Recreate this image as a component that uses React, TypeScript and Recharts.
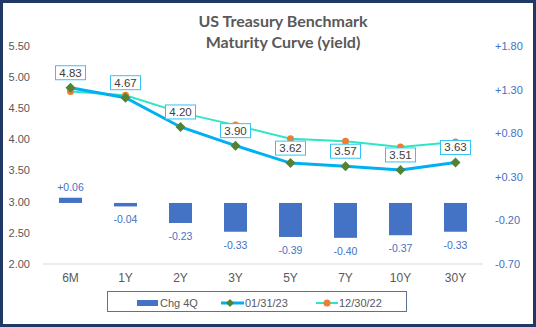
import React from 'react';
import { ComposedChart, Bar, Line, XAxis, YAxis, LabelList } from 'recharts';

const tenors = ['6M', '1Y', '2Y', '3Y', '5Y', '7Y', '10Y', '30Y'];
const chg4Q = [0.06, -0.04, -0.23, -0.33, -0.39, -0.4, -0.37, -0.33];
const jan31 = [4.83, 4.67, 4.2, 3.9, 3.62, 3.57, 3.51, 3.63];
const dec30 = [4.77, 4.71, 4.43, 4.23, 4.01, 3.97, 3.88, 3.96];
const leftTicks = [2, 2.5, 3, 3.5, 4, 4.5, 5, 5.5];
const rightTicks = [-0.7, -0.2, 0.3, 0.8, 1.3, 1.8];

const data = tenors.map((t, i) => ({ tenor: t, chg: chg4Q[i], jan: jan31[i], dec: dec30[i] }));

const FONT = '"Liberation Sans", Arial, sans-serif';
const BAR_BLUE = '#4472C4';
const LINE_BLUE = '#00B0F0';
const TEAL = '#2EE6C6';

const Diamond = (props: any) => {
    const { cx, cy } = props;
    if (cx == null || cy == null) return null;
    return <polygon points={`${cx},${cy - 5} ${cx + 5},${cy} ${cx},${cy + 5} ${cx - 5},${cy}`} fill="#548235" />;
};

const OrangeDot = (props: any) => {
    const { cx, cy } = props;
    if (cx == null || cy == null) return null;
    return <circle cx={cx} cy={cy} r={3.5} fill="#ED7D31" />;
};

const BoxLabel = (props: any) => {
    const { x, y, value } = props;
    return (
        <g>
            <rect x={x - 15} y={y - 22} width={30} height={14} fill="#fff" stroke="#33C4F5" strokeWidth={1} />
            <text x={x} y={y - 11} textAnchor="middle" fontSize={11.5} fill="#404040" fontFamily={FONT}>
                {Number(value).toFixed(2)}
            </text>
        </g>
    );
};

const BarLabel = (props: any) => {
    const { x, y, width, height, value } = props;
    const cx = x + width / 2;
    const neg = value < 0;
    const top = Math.min(y, y + height);
    const bottom = Math.max(y, y + height);
    const ty = neg ? bottom + 17 : top - 7;
    const txt = (value > 0 ? '+' : '') + Number(value).toFixed(2);
    return (
        <text x={cx} y={ty} textAnchor="middle" fontSize={10.5} fill={BAR_BLUE} fontFamily={FONT}>
            {txt}
        </text>
    );
};

function Legend() {
    return (
        <div
            style={{
                position: 'absolute',
                left: 107,
                top: 291,
                width: 300,
                height: 21,
                border: '1px solid #5C7396',
                boxSizing: 'border-box',
                fontFamily: FONT,
                fontSize: 11,
                color: '#595959',
            }}
        >
            <svg width={300} height={21} style={{ position: 'absolute', left: 0, top: 0 }}>
                <rect x={29} y={8} width={21} height={6} fill={BAR_BLUE} />
                <text x={52} y={14.5} fontSize={11} fill="#595959" fontFamily={FONT}>Chg 4Q</text>
                <line x1={113} x2={136} y1={11} y2={11} stroke={LINE_BLUE} strokeWidth={3} />
                <polygon points="122,7 126,11 122,15 118,11" fill="#548235" />
                <text x={137} y={14.5} fontSize={11} fill="#595959" fontFamily={FONT}>01/31/23</text>
                <line x1={208} x2={230} y1={11} y2={11} stroke={TEAL} strokeWidth={2} />
                <circle cx={219} cy={11} r={3.5} fill="#ED7D31" />
                <text x={231} y={14.5} fontSize={11} fill="#595959" fontFamily={FONT}>12/30/22</text>
            </svg>
        </div>
    );
}

export default function App() {
    return (
        <div style={{ position: 'absolute', left: 0, top: 0, width: 536, height: 327, background: '#fff' }}>
            <ComposedChart
                width={536}
                height={327}
                data={data}
                margin={{ top: 46, right: 0, bottom: 40, left: 0 }}
            >
                <XAxis
                    dataKey="tenor"
                    yAxisId="left"
                    xAxisId={0}
                    axisLine={{ stroke: '#D9D9D9', strokeWidth: 1 }}
                    tickLine={false}
                    tickSize={0}
                    tickMargin={9}
                    height={23}
                    tick={{ fontSize: 12, fill: '#595959', fontFamily: FONT }}
                />
                <YAxis
                    yAxisId="left"
                    orientation="left"
                    domain={[2, 5.5]}
                    ticks={leftTicks}
                    width={43}
                    axisLine={false}
                    tickLine={false}
                    tickSize={0}
                    tickMargin={13}
                    tickFormatter={(v: number) => v.toFixed(2)}
                    tick={{ fontSize: 11, fill: '#595959', fontFamily: FONT }}
                />
                <YAxis
                    yAxisId="right"
                    orientation="right"
                    domain={[-0.7, 1.8]}
                    ticks={rightTicks}
                    width={53}
                    axisLine={false}
                    tickLine={false}
                    tickSize={0}
                    tickMargin={12}
                    tickFormatter={(v: number) => (v > 0 ? '+' : '') + v.toFixed(2)}
                    tick={{ fontSize: 11, fill: BAR_BLUE, fontFamily: FONT }}
                />
                <Bar yAxisId="right" dataKey="chg" fill={BAR_BLUE} barSize={23} isAnimationActive={false}>
                    <LabelList dataKey="chg" content={BarLabel} />
                </Bar>
                <Line
                    yAxisId="left"
                    dataKey="dec"
                    stroke={TEAL}
                    strokeWidth={2}
                    dot={OrangeDot}
                    activeDot={false}
                    isAnimationActive={false}
                />
                <Line
                    yAxisId="left"
                    dataKey="jan"
                    stroke={LINE_BLUE}
                    strokeWidth={3}
                    dot={Diamond}
                    activeDot={false}
                    isAnimationActive={false}
                >
                    <LabelList dataKey="jan" content={BoxLabel} />
                </Line>
            </ComposedChart>
            <div
                style={{
                    position: 'absolute',
                    left: 0,
                    top: 10,
                    width: 566,
                    textAlign: 'center',
                    fontFamily: 'Lato, sans-serif',
                    fontWeight: 'bold',
                    fontSize: 16,
                    lineHeight: '21px',
                    color: '#595959',
                }}
            >
                US Treasury Benchmark
                <br />
                Maturity Curve (yield)
            </div>
            <Legend />
            <div
                style={{
                    position: 'absolute',
                    left: 0,
                    top: 0,
                    width: 536,
                    height: 327,
                    border: '3px solid #1F3864',
                    boxSizing: 'border-box',
                    pointerEvents: 'none',
                }}
            />
        </div>
    );
}
